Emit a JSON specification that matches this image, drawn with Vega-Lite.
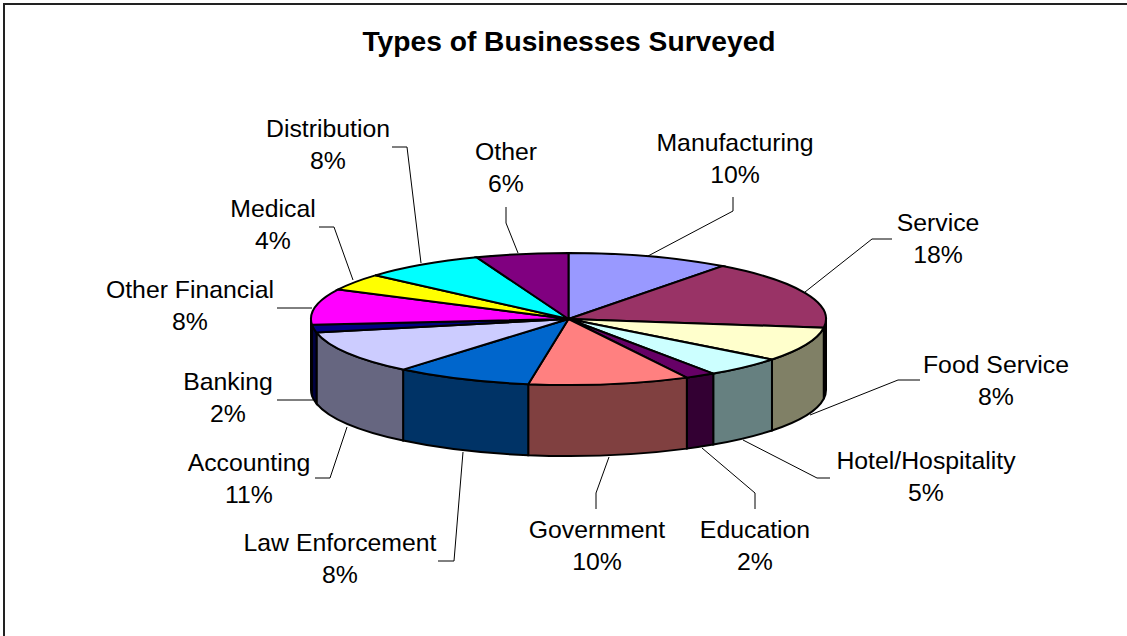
{
"$schema":"https://vega.github.io/schema/vega-lite/v6.json",
"width":1127,"height":636,"padding":0,"autosize":{"type":"none"},
"background":"white",
"config":{"view":{"stroke":null}},
"title":{"text":"Types of Businesses Surveyed","font":"Liberation Sans","fontSize":28.2,"fontWeight":"bold","color":"black","anchor":"middle","dx":5.5,"offset":-57},
"datasets":{
"slices":[
{"seq":1,"name":"Manufacturing","share":10.2},
{"seq":2,"name":"Service","share":16.9},
{"seq":3,"name":"Food Service","share":8.4},
{"seq":4,"name":"Hotel/Hospitality","share":5.0},
{"seq":5,"name":"Education","share":1.9},
{"seq":6,"name":"Government","share":10.1},
{"seq":7,"name":"Law Enforcement","share":8.6},
{"seq":8,"name":"Accounting","share":10.6},
{"seq":9,"name":"Banking","share":1.9},
{"seq":10,"name":"Other Financial","share":8.8},
{"seq":11,"name":"Medical","share":4.1},
{"seq":12,"name":"Distribution","share":7.7},
{"seq":13,"name":"Other","share":5.8}
],
"labels":[
{"name":"Manufacturing","pct":10,"lx":735,"ly":143.5},
{"name":"Service","pct":18,"lx":938,"ly":224},
{"name":"Food Service","pct":8,"lx":996,"ly":366},
{"name":"Hotel/Hospitality","pct":5,"lx":926,"ly":462},
{"name":"Education","pct":2,"lx":755,"ly":531},
{"name":"Government","pct":10,"lx":597,"ly":531},
{"name":"Law Enforcement","pct":8,"lx":340,"ly":544},
{"name":"Accounting","pct":11,"lx":249,"ly":464},
{"name":"Banking","pct":2,"lx":228,"ly":383},
{"name":"Other Financial","pct":8,"lx":190,"ly":291},
{"name":"Medical","pct":4,"lx":273,"ly":210},
{"name":"Distribution","pct":8,"lx":328,"ly":130},
{"name":"Other","pct":6,"lx":506,"ly":153}
],
"leaders":[
{"name":"Manufacturing","i":1,"px":733,"py":197},{"name":"Manufacturing","i":2,"px":733,"py":211},{"name":"Manufacturing","i":3,"px":648,"py":256},
{"name":"Service","i":1,"px":892,"py":239},{"name":"Service","i":2,"px":872,"py":239},{"name":"Service","i":3,"px":805,"py":292},
{"name":"Food Service","i":1,"px":920,"py":380},{"name":"Food Service","i":2,"px":898,"py":380},{"name":"Food Service","i":3,"px":810,"py":415},
{"name":"Hotel/Hospitality","i":1,"px":830,"py":478},{"name":"Hotel/Hospitality","i":2,"px":817,"py":478},{"name":"Hotel/Hospitality","i":3,"px":743,"py":440},
{"name":"Education","i":1,"px":755,"py":509},{"name":"Education","i":2,"px":755,"py":493},{"name":"Education","i":3,"px":702,"py":448},
{"name":"Government","i":1,"px":596,"py":509},{"name":"Government","i":2,"px":596,"py":493},{"name":"Government","i":3,"px":609,"py":457},
{"name":"Law Enforcement","i":1,"px":438,"py":561},{"name":"Law Enforcement","i":2,"px":454,"py":561},{"name":"Law Enforcement","i":3,"px":463,"py":452},
{"name":"Accounting","i":1,"px":315,"py":478},{"name":"Accounting","i":2,"px":330,"py":478},{"name":"Accounting","i":3,"px":347,"py":427},
{"name":"Banking","i":1,"px":277,"py":400},{"name":"Banking","i":2,"px":313,"py":400},
{"name":"Other Financial","i":1,"px":277,"py":308},{"name":"Other Financial","i":2,"px":312,"py":308},
{"name":"Medical","i":1,"px":319,"py":227},{"name":"Medical","i":2,"px":334,"py":227},{"name":"Medical","i":3,"px":353,"py":280},
{"name":"Distribution","i":1,"px":392,"py":147},{"name":"Distribution","i":2,"px":407,"py":147},{"name":"Distribution","i":3,"px":421,"py":263},
{"name":"Other","i":1,"px":506,"py":207},{"name":"Other","i":2,"px":506,"py":223},{"name":"Other","i":3,"px":518,"py":253},
{"name":"frame","i":1,"px":1127,"py":4},{"name":"frame","i":2,"px":4,"py":4},{"name":"frame","i":3,"px":4,"py":636}
]
},
"layer":[
{"data":{"name":"leaders"},
 "mark":{"type":"line","color":"black","strokeWidth":1,"interpolate":"linear"},
 "transform":[{"filter":"datum.name!=='frame'"}],
 "encoding":{
  "x":{"field":"px","type":"quantitative","scale":{"domain":[0,1127],"nice":false,"zero":false},"axis":null},
  "y":{"field":"py","type":"quantitative","scale":{"domain":[0,636],"range":[0,636],"nice":false,"zero":false},"axis":null},
  "detail":{"field":"name"},"order":{"field":"i"}}},
{"data":{"name":"leaders"},
 "mark":{"type":"line","color":"#222222","strokeWidth":2,"interpolate":"linear"},
 "transform":[{"filter":"datum.name==='frame'"}],
 "encoding":{
  "x":{"field":"px","type":"quantitative","scale":{"domain":[0,1127],"nice":false,"zero":false},"axis":null},
  "y":{"field":"py","type":"quantitative","scale":{"domain":[0,636],"range":[0,636],"nice":false,"zero":false},"axis":null},
  "detail":{"field":"name"},"order":{"field":"i"}}},
{"data":{"name":"slices"},
 "transform":[
  {"window":[{"op":"sum","field":"share","as":"cum"}],"sort":[{"field":"seq"}]},
  {"calculate":"clamp(2*PI*(datum.cum-datum.share)/100,PI/2,3*PI/2)","as":"a0"},
  {"calculate":"clamp(2*PI*datum.cum/100,PI/2,3*PI/2)","as":"a1"},
  {"filter":"datum.a1>datum.a0"},
  {"calculate":"round(25750*sin(datum.a0))/100","as":"x0"},
  {"calculate":"round(-6600*cos(datum.a0))/100","as":"y0"},
  {"calculate":"round(25750*sin(datum.a1))/100","as":"x1"},
  {"calculate":"round(-6600*cos(datum.a1))/100","as":"y1"},
  {"calculate":"'M'+datum.x0+','+datum.y0+'A257.5,66 0 0 1 '+datum.x1+','+datum.y1+'L'+datum.x1+','+(datum.y1+71)+'A257.5,66 0 0 0 '+datum.x0+','+(datum.y0+71)+'Z'","as":"path"}
 ],
 "mark":{"type":"point","filled":true,"opacity":1,"stroke":"black","strokeWidth":2,"size":4},
 "encoding":{
  "x":{"datum":568.5,"type":"quantitative","scale":{"domain":[0,1127],"nice":false,"zero":false},"axis":null},
  "y":{"datum":319,"type":"quantitative","scale":{"domain":[0,636],"range":[0,636],"nice":false,"zero":false},"axis":null},
  "shape":{"field":"path","type":"nominal","scale":null,"legend":null},
  "fill":{"field":"name","type":"nominal","legend":null,"scale":{
   "domain":["Service","Food Service","Hotel/Hospitality","Education","Government","Law Enforcement","Accounting","Banking"],
   "range":["#4C1933","#808066","#668080","#330033","#804040","#003366","#666680","#000040"]}}}},
{"data":{"name":"slices"},
 "transform":[
  {"window":[{"op":"sum","field":"share","as":"cum"}],"sort":[{"field":"seq"}]},
  {"calculate":"2*PI*(datum.cum-datum.share)/100","as":"t0"},
  {"calculate":"2*PI*datum.cum/100","as":"t1"},
  {"calculate":"round(25750*sin(datum.t0))/100","as":"x0"},
  {"calculate":"round(-6600*cos(datum.t0))/100","as":"y0"},
  {"calculate":"round(25750*sin(datum.t1))/100","as":"x1"},
  {"calculate":"round(-6600*cos(datum.t1))/100","as":"y1"},
  {"calculate":"'M0,0L'+datum.x0+','+datum.y0+'A257.5,66 0 0 1 '+datum.x1+','+datum.y1+'Z'","as":"path"}
 ],
 "mark":{"type":"point","filled":true,"opacity":1,"stroke":"black","strokeWidth":2,"size":4},
 "encoding":{
  "x":{"datum":568.5,"type":"quantitative","scale":{"domain":[0,1127],"nice":false,"zero":false},"axis":null},
  "y":{"datum":319,"type":"quantitative","scale":{"domain":[0,636],"range":[0,636],"nice":false,"zero":false},"axis":null},
  "shape":{"field":"path","type":"nominal","scale":null,"legend":null},
  "fill":{"field":"name","type":"nominal","legend":null,"scale":{
   "domain":["Manufacturing","Service","Food Service","Hotel/Hospitality","Education","Government","Law Enforcement","Accounting","Banking","Other Financial","Medical","Distribution","Other"],
   "range":["#9999FF","#993366","#FFFFCC","#CCFFFF","#660066","#FF8080","#0066CC","#CCCCFF","#000080","#FF00FF","#FFFF00","#00FFFF","#800080"]}}}},
{"data":{"name":"labels"},
 "transform":[{"calculate":"datum.name+'\\n'+datum.pct+'%'","as":"label"}],
 "mark":{"type":"text","font":"Liberation Sans","fontSize":24.8,"lineBreak":"\n","lineHeight":32,"align":"center","baseline":"middle","color":"black"},
 "encoding":{
  "x":{"field":"lx","type":"quantitative","scale":{"domain":[0,1127],"nice":false,"zero":false},"axis":null},
  "y":{"field":"ly","type":"quantitative","scale":{"domain":[0,636],"range":[0,636],"nice":false,"zero":false},"axis":null},
  "text":{"field":"label"}}}
],
"resolve":{"scale":{"fill":"independent"}}
}
